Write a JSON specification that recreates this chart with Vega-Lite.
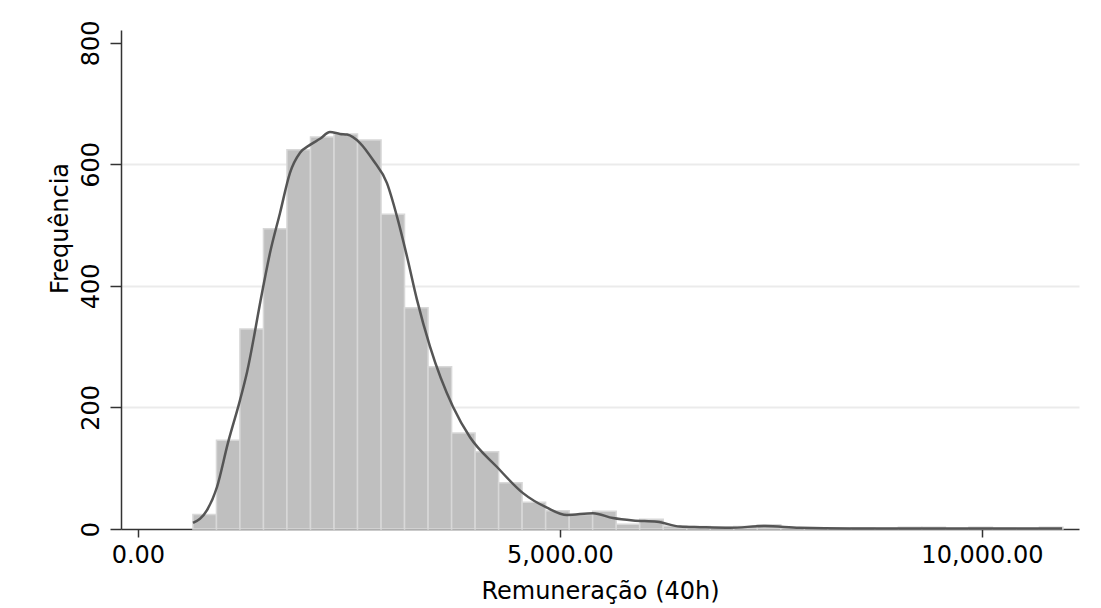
{
  "$schema": "https://vega.github.io/schema/vega-lite/v6.json",
  "width": 958,
  "height": 499,
  "autosize": {"type": "none"},
  "padding": {"left": 121, "top": 30, "right": 22, "bottom": 79},
  "background": "white",
  "config": {
    "view": {"stroke": null},
    "font": "DejaVu Sans",
    "axis": {
      "labelFont": "DejaVu Sans",
      "titleFont": "DejaVu Sans",
      "labelColor": "#000",
      "titleColor": "#000",
      "titleFontWeight": "normal",
      "domainColor": "#333",
      "tickColor": "#333",
      "domainWidth": 1.5,
      "tickWidth": 1.5
    }
  },
  "datasets": {
    "bins": [
      {"lo": 652, "hi": 931, "count": 24},
      {"lo": 931, "hi": 1209, "count": 146},
      {"lo": 1209, "hi": 1488, "count": 329},
      {"lo": 1488, "hi": 1766, "count": 494},
      {"lo": 1766, "hi": 2045, "count": 624},
      {"lo": 2045, "hi": 2324, "count": 645},
      {"lo": 2324, "hi": 2602, "count": 650},
      {"lo": 2602, "hi": 2881, "count": 640},
      {"lo": 2881, "hi": 3159, "count": 518},
      {"lo": 3159, "hi": 3438, "count": 364},
      {"lo": 3438, "hi": 3717, "count": 267},
      {"lo": 3717, "hi": 3995, "count": 158},
      {"lo": 3995, "hi": 4274, "count": 127},
      {"lo": 4274, "hi": 4552, "count": 76},
      {"lo": 4552, "hi": 4831, "count": 44},
      {"lo": 4831, "hi": 5110, "count": 30},
      {"lo": 5110, "hi": 5388, "count": 24},
      {"lo": 5388, "hi": 5667, "count": 29},
      {"lo": 5667, "hi": 5945, "count": 8},
      {"lo": 5945, "hi": 6224, "count": 16},
      {"lo": 6224, "hi": 6503, "count": 5},
      {"lo": 6503, "hi": 6781, "count": 4},
      {"lo": 6781, "hi": 7060, "count": 3},
      {"lo": 7060, "hi": 7338, "count": 4},
      {"lo": 7338, "hi": 7617, "count": 7},
      {"lo": 7617, "hi": 7896, "count": 2},
      {"lo": 7896, "hi": 8174, "count": 2},
      {"lo": 8174, "hi": 8453, "count": 1},
      {"lo": 8453, "hi": 8731, "count": 2},
      {"lo": 8731, "hi": 9010, "count": 1},
      {"lo": 9010, "hi": 9289, "count": 3},
      {"lo": 9289, "hi": 9567, "count": 3},
      {"lo": 9567, "hi": 9846, "count": 0},
      {"lo": 9846, "hi": 10124, "count": 3},
      {"lo": 10124, "hi": 10403, "count": 1},
      {"lo": 10403, "hi": 10681, "count": 0},
      {"lo": 10681, "hi": 10960, "count": 3}
    ],
    "density": [
      {"v": 653, "d": 10},
      {"v": 819, "d": 31},
      {"v": 937, "d": 69},
      {"v": 1068, "d": 142},
      {"v": 1210, "d": 212},
      {"v": 1293, "d": 258},
      {"v": 1470, "d": 388},
      {"v": 1565, "d": 454},
      {"v": 1684, "d": 520},
      {"v": 1802, "d": 586},
      {"v": 1921, "d": 619},
      {"v": 2039, "d": 632},
      {"v": 2158, "d": 642},
      {"v": 2276, "d": 653},
      {"v": 2395, "d": 650},
      {"v": 2478, "d": 649},
      {"v": 2632, "d": 635},
      {"v": 2786, "d": 607},
      {"v": 2951, "d": 569},
      {"v": 3070, "d": 514},
      {"v": 3189, "d": 448},
      {"v": 3307, "d": 377},
      {"v": 3461, "d": 300},
      {"v": 3733, "d": 201},
      {"v": 3935, "d": 151},
      {"v": 4255, "d": 102},
      {"v": 4563, "d": 59},
      {"v": 4847, "d": 35},
      {"v": 5084, "d": 23},
      {"v": 5392, "d": 26},
      {"v": 5629, "d": 18},
      {"v": 5866, "d": 14},
      {"v": 6151, "d": 12},
      {"v": 6423, "d": 4},
      {"v": 6660, "d": 3},
      {"v": 7015, "d": 2},
      {"v": 7430, "d": 5},
      {"v": 7840, "d": 2},
      {"v": 8435, "d": 1},
      {"v": 9030, "d": 1},
      {"v": 9620, "d": 1},
      {"v": 10215, "d": 1},
      {"v": 10950, "d": 1}
    ]
  },
  "layer": [
    {
      "data": {"name": "bins"},
      "mark": {"type": "bar", "color": "#bfbfbf", "stroke": "#d8d8d8", "strokeWidth": 1.5, "orient": "vertical"},
      "encoding": {
        "x": {
          "field": "lo",
          "type": "quantitative",
          "scale": {"domain": [-200, 11150], "nice": false, "zero": false, "padding": 0},
          "axis": {
            "values": [0, 5000, 10000],
            "format": ",.2f",
            "grid": false,
            "tickSize": 8,
            "labelFontSize": 24,
            "labelPadding": 6,
            "title": "Remuneração (40h)",
            "titleFontSize": 24,
            "titleBaseline": "alphabetic",
            "titleY": 69
          }
        },
        "x2": {"field": "hi"},
        "y": {
          "field": "count",
          "type": "quantitative",
          "scale": {"domain": [0, 821], "nice": false, "padding": 0},
          "axis": {
            "values": [0, 200, 400, 600, 800],
            "grid": true,
            "gridColor": "#ebebeb",
            "gridWidth": 2,
            "gridOpacity": {"condition": {"test": "datum.value <= 0 || datum.value >= 800", "value": 0}, "value": 1},
            "tickSize": 11,
            "labelFontSize": 24,
            "labelAngle": -90,
            "labelAlign": "center",
            "labelBaseline": "alphabetic",
            "labelPadding": 12,
            "title": "Frequência",
            "titleFontSize": 24,
            "titleAngle": -90,
            "titleAlign": "center",
            "titleBaseline": "alphabetic",
            "titleX": -54,
            "titleY": 198
          }
        },
        "y2": {"datum": 0}
      }
    },
    {
      "data": {"name": "density"},
      "mark": {"type": "line", "color": "#555555", "strokeWidth": 2.5, "interpolate": "monotone"},
      "encoding": {
        "x": {"field": "v", "type": "quantitative"},
        "y": {"field": "d", "type": "quantitative"}
      }
    }
  ]
}
